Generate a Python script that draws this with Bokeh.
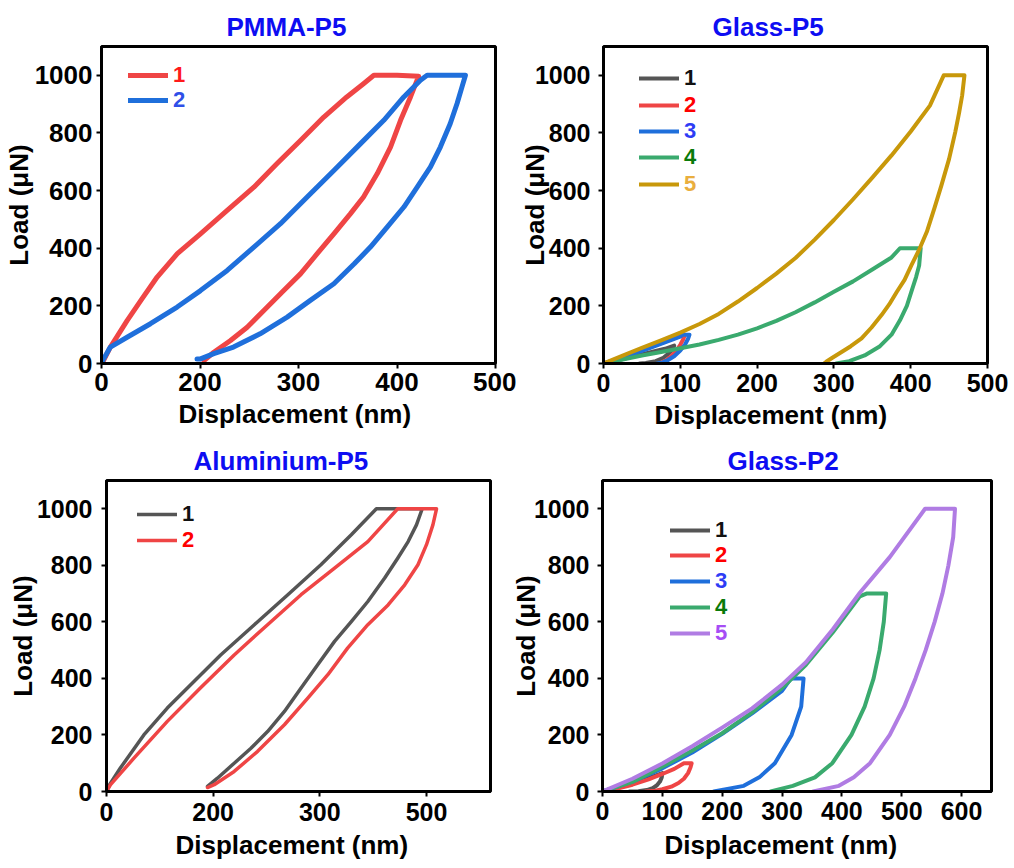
from bokeh.plotting import figure
from bokeh.layouts import column, row
from bokeh.models import Range1d, FixedTicker, Legend, LegendItem, Title
from bokeh.embed import file_html
from bokeh.resources import INLINE

FONT = "Liberation Sans"

# ---------------- data ----------------
# Panel A: PMMA-P5 (x axis: tick "0" sits at coordinate 100, evenly spaced ticks)
pmma_x_ticks = [100, 200, 300, 400, 500]
pmma_x_labels = {100: "0"}
pmma_1_x = [100, 102, 109, 126, 140, 156.5, 177, 200.5, 227.6, 254.7, 278, 302, 325.7, 349, 366, 376.5,
            400, 422, 413.7, 403.6, 393.4, 380, 366, 352.8, 335.9, 319, 302, 285, 264.8, 247.9, 231, 214, 204]
pmma_1_y = [0, 10, 57, 149, 219, 300, 381, 450, 531, 612, 693, 774, 855, 925, 971, 1000,
            1000, 997, 925, 844, 751, 659, 578, 520, 450, 381, 311, 253, 184, 126, 80, 39, 10]
pmma_2_x = [100, 102, 109, 126, 149.7, 176.8, 200.5, 227.6, 254.7, 281.7, 308.8, 335.9, 363, 386.6, 406.9, 423.8, 430.6,
            450, 469.5, 466, 461, 454, 444, 434, 420.5, 407, 390, 373, 356.6, 335.9, 312, 288.5, 261, 234, 214, 200.5, 197]
pmma_2_y = [0, 15, 57, 91, 138, 196, 253, 323, 404, 485, 578, 670, 763, 844, 925, 983, 1000,
            1000, 1000, 960, 902, 832, 751, 682, 612, 543, 473, 404, 346, 277, 219, 161, 103, 57, 34, 16, 16]

# Panel B: Glass-P5
g5_x_ticks = [0, 100, 200, 300, 400, 500]
g5_1_x = [0, 20, 40, 60, 80, 92, 90, 85, 78, 68, 55, 47]
g5_1_y = [0, 12, 25, 38, 51, 62, 50, 35, 20, 8, 2, 0]
g5_2_x = [0, 20, 40, 60, 80, 100, 104, 106, 104, 100, 94, 88, 82, 76, 72]
g5_2_y = [0, 17, 36, 56, 76, 96, 100, 100, 85, 65, 42, 25, 12, 4, 0]
g5_3_x = [0, 20, 40, 60, 80, 100, 103, 112, 110, 106, 100, 92, 84, 77, 70]
g5_3_y = [0, 16, 34, 53, 73, 93, 100, 100, 85, 65, 45, 25, 12, 4, 0]
g5_4_x = [0, 25, 50, 75, 100, 125, 150, 175, 200, 225, 250, 275, 300, 325, 350, 375, 386, 413,
          411, 407, 401, 395, 386, 375, 360, 340, 320, 303]
g5_4_y = [0, 14, 28, 40, 53, 66, 82, 100, 122, 148, 178, 212, 249, 285, 326, 368, 400, 400,
          340, 300, 250, 200, 150, 100, 60, 28, 8, 0]
g5_5_x = [0, 25, 50, 75, 100, 125, 150, 175, 200, 225, 250, 275, 300, 325, 350, 375, 400, 425, 443, 470,
          467, 463, 458, 450, 440, 431, 421, 411, 401, 392, 382, 372, 362, 349, 336, 322, 310, 298, 290, 287]
g5_5_y = [0, 27, 54, 80, 107, 137, 172, 215, 262, 312, 366, 430, 498, 570, 645, 722, 805, 895, 1000, 1000,
          930, 870, 803, 710, 618, 540, 457, 395, 341, 290, 249, 205, 168, 125, 87, 60, 40, 20, 6, 0]

# Panel C: Aluminium-P5 (ticks evenly spaced, labelled 0, 200, 300, 500)
al_x_ticks = [100, 200, 300, 400]
al_x_labels = {100: "0", 400: "500"}
al_1_x = [100, 103, 113, 135, 157, 182, 207, 238.6, 270, 301, 329.5, 353, 396,
          390.6, 382.8, 373, 360.8, 345, 329.5, 313.8, 298, 282.4, 266.8, 251, 235.4, 219.7, 204, 194.7]
al_1_y = [0, 25, 83, 200, 295, 389, 483, 590, 696, 802, 908, 1000, 1000,
          943, 884, 825, 755, 672, 601, 531, 448, 366, 283, 212, 153, 100, 47, 18]
al_2_x = [100, 103.8, 125.7, 157, 188, 219.7, 251, 282.4, 313.8, 345, 373, 409.4,
          406, 400, 392, 379.6, 364, 345, 326, 307.5, 288.7, 266.8, 241.7, 219.7, 201, 194.7]
al_2_y = [0, 24, 118, 248, 366, 483, 590, 696, 790, 884, 1000, 1000,
          943, 873, 802, 731, 660, 590, 507, 413, 330, 236, 142, 71, 24, 14]

# Panel D: Glass-P2
g2_x_ticks = [0, 100, 200, 300, 400, 500, 600]
g2_1_x = [0, 20, 40, 60, 80, 100, 99, 96, 91, 84, 74, 60, 45]
g2_1_y = [0, 10, 22, 35, 50, 65, 50, 35, 22, 12, 5, 1, 0]
g2_2_x = [0, 25, 50, 77, 100, 120, 136, 149, 147, 143, 136, 127, 115, 100, 88, 72]
g2_2_y = [0, 10, 24, 43, 62, 80, 100, 100, 85, 65, 45, 30, 17, 8, 3, 0]
g2_3_x = [0, 50, 100, 150, 200, 250, 300, 315, 336, 332, 316, 288, 262, 236, 186]
g2_3_y = [0, 35, 82, 138, 204, 276, 356, 400, 400, 300, 200, 100, 50, 20, 0]
g2_4_x = [0, 50, 100, 150, 200, 250, 300, 340, 385, 430, 441, 474,
          470, 463, 453, 438, 416, 384, 355, 318, 281]
g2_4_y = [0, 34, 88, 145, 206, 280, 366, 448, 563, 690, 700, 700,
          600, 500, 400, 300, 200, 100, 50, 20, 0]
g2_5_x = [0, 50, 100, 150, 200, 250, 300, 340, 385, 430, 480, 539, 589,
          586, 578, 568, 555, 540, 523, 504, 480, 447, 420, 395, 352]
g2_5_y = [0, 45, 99, 160, 226, 294, 378, 457, 574, 703, 829, 1000, 1000,
          900, 800, 700, 600, 500, 400, 300, 200, 100, 50, 20, 0]

y_ticks = [0, 200, 400, 600, 800, 1000]

GRAY = "#555555"
RED = "#EF4545"
BLUE = "#1F6FDB"
GREEN = "#3AAA6E"
GOLD = "#C8980A"
PURPLE = "#B07CE3"
TITLE_BLUE = "#0D0DF2"


def panel(title, w, h, bl, br, bt, bb, xr, xticks, xlabels, title_off, xlab_off, xlab_standoff,
          tick_fs, ylab_standoff, ytick_standoff, xtick_standoff):
    p = figure(width=w, height=h, x_range=Range1d(*xr), y_range=Range1d(0, 1100),
               output_backend="svg", toolbar_location=None,
               min_border_left=bl, min_border_right=br, min_border_top=bt, min_border_bottom=bb,
               title=title)
    p.title.align = "left"
    p.title.offset = title_off
    p.title.text_font = FONT
    p.title.text_font_size = "26px"
    p.title.text_font_style = "bold"
    p.title.text_color = TITLE_BLUE
    p.title.standoff = 10
    p.outline_line_color = "black"
    p.outline_line_width = 3
    p.outline_line_alpha = 1
    p.xgrid.visible = False
    p.ygrid.visible = False
    p.background_fill_color = "white"
    p.border_fill_color = "white"
    p.xaxis.ticker = FixedTicker(ticks=xticks)
    if xlabels:
        p.xaxis.major_label_overrides = xlabels
    p.yaxis.ticker = FixedTicker(ticks=y_ticks)
    for ax in (p.xaxis[0], p.yaxis[0]):
        ax.axis_line_width = 3
        ax.major_tick_line_width = 2
        ax.major_tick_out = 5
        ax.major_tick_in = 0
        ax.minor_tick_out = 0
        ax.minor_tick_in = 0
        ax.major_label_text_font = FONT
        ax.major_label_text_font_style = "bold"
        ax.major_label_text_font_size = tick_fs
        ax.major_label_text_color = "black"
    p.yaxis.major_label_standoff = ytick_standoff
    p.xaxis.major_label_standoff = xtick_standoff
    p.yaxis.axis_label = "Load (μN)"
    p.yaxis.axis_label_text_font = FONT
    p.yaxis.axis_label_text_font_size = "26px"
    p.yaxis.axis_label_text_font_style = "bold"
    p.yaxis.axis_label_text_color = "black"
    p.yaxis.axis_label_standoff = ylab_standoff
    xt = Title(text="Displacement (nm)", align="left", offset=xlab_off, text_font=FONT,
               text_font_size="26px", text_font_style="bold", text_color="black",
               standoff=xlab_standoff)
    p.add_layout(xt, "below")
    return p


def add_series(p, xs, ys, color, lw, label, tcolor, lx, ly):
    r = p.line(xs, ys, line_color=color, line_width=lw, line_join="round", line_cap="round")
    leg = Legend(items=[LegendItem(label=label, renderers=[r])], location=(lx, ly),
                 label_text_color=tcolor, label_text_font=FONT, label_text_font_style="bold",
                 label_text_font_size="22px", glyph_width=40, glyph_height=26, label_height=26,
                 label_standoff=5, padding=0, margin=0, spacing=0,
                 background_fill_alpha=0, border_line_alpha=0)
    p.add_layout(leg)


# Panel A
pA = panel("PMMA-P5", 516, 436, 101, 21, 45, 73, (100, 500), pmma_x_ticks, pmma_x_labels,
           125, 77, 6, "26px", -2, 4, 4)
add_series(pA, pmma_1_x, pmma_1_y, RED, 5, "1", "#FF1A1A", 27, 275)
add_series(pA, pmma_2_x, pmma_2_y, BLUE, 5, "2", "#2F4FE8", 27, 250)

# Panel B
pB = panel("Glass-P5", 498, 436, 87, 27, 46, 72, (0, 500), g5_x_ticks, None,
           109, 51, 6, "25px", -18, 8, 5)
add_series(pB, g5_1_x, g5_1_y, GRAY, 4, "1", "#111111", 36, 272)
add_series(pB, g5_2_x, g5_2_y, RED, 4, "2", "#FF0000", 36, 245)
add_series(pB, g5_3_x, g5_3_y, BLUE, 4, "3", "#2D3CF5", 36, 219)
add_series(pB, g5_4_x, g5_4_y, GREEN, 4, "4", "#0A7A0A", 36, 193)
add_series(pB, g5_5_x, g5_5_y, GOLD, 4, "5", "#E9AE3E", 36, 166)

# Panel C
pC = panel("Aluminium-P5", 507, 432, 106, 17, 44, 77, (100, 460), al_x_ticks, al_x_labels,
           87, 69, 8, "25px", -4, 9, 6)
add_series(pC, al_1_x, al_1_y, GRAY, 3.5, "1", "#111111", 31, 264)
add_series(pC, al_2_x, al_2_y, RED, 3.5, "2", "#FF0000", 31, 238)

# Panel D
pD = panel("Glass-P2", 507, 432, 95, 23, 44, 74, (0, 650), g2_x_ticks, None,
           125, 62, 10, "25px", -10, 8, 5)
add_series(pD, g2_1_x, g2_1_y, GRAY, 4, "1", "#111111", 68, 248)
add_series(pD, g2_2_x, g2_2_y, RED, 4, "2", "#FF0000", 68, 223)
add_series(pD, g2_3_x, g2_3_y, BLUE, 4, "3", "#2D3CF5", 68, 197)
add_series(pD, g2_4_x, g2_4_y, GREEN, 4, "4", "#0A7A0A", 68, 171)
add_series(pD, g2_5_x, g2_5_y, PURPLE, 4, "5", "#A64DF5", 68, 145)

layout = column(row(pA, pB), row(pC, pD))

with open("out.html", "w") as f:
    f.write(file_html(layout, INLINE))
